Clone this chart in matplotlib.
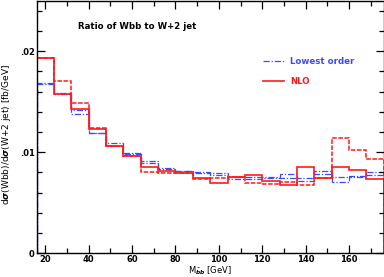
import numpy as np
import matplotlib
matplotlib.use('Agg')
import matplotlib.pyplot as plt
from matplotlib.ticker import MultipleLocator, FuncFormatter

# bin edges in M_bb (GeV), 8 GeV bins
edges = np.arange(16, 177, 8)

# Lowest order (scale band, two curves)
lo_up = [.0168, .0159, .01415, .0119, .0109, .0099, .0091, .00845, .0081, .0080,
         .0079, .0075, .0075, .0075, .0078, .0074, .00815, .0075, .0076, .0080]
lo_dn = [.0167, .0158, .0138, .0119, .0106, .0098, .0089, .0083, .0081, .0079,
         .0077, .0073, .0073, .0074, .0074, .0072, .0078, .0071, .0075, .0077]

# NLO (solid and dashed)
nlo_a = [.0193, .0158, .0143, .0123, .0106, .0096, .00855, .00815, .0079, .0074,
         .0070, .0075, .0077, .0072, .0068, .00855, .0074, .00852, .00822, .00737]
nlo_b = [.0193, .0170, .0149, .01235, .0106, .0096, .00806, .00796, .0079, .0073,
         .0074, .0075, .0070, .0069, .0071, .0068, .0074, .0114, .0102, .0093]

xticks = [20, 40, 60, 80, 100, 120, 140, 160]

plt.rcParams['font.family'] = 'DejaVu Sans'
plt.rcParams['font.weight'] = 'bold'

fig = plt.figure(figsize=(3.84, 2.77), dpi=100)
ax = fig.add_axes([0.0956, 0.0856, 0.9035, 0.9124])

blue = '#3a4cff'
red = '#ff1a1a'
dashdot = (0, (5, 1.5, 1, 1.5))
ax.stairs(lo_up, edges, color=blue, lw=0.9, ls=dashdot)
ax.stairs(lo_dn, edges, color=blue, lw=0.9, ls=dashdot)
ax.stairs(nlo_a, edges, color=red, lw=1.2)
ax.stairs(nlo_b, edges, color=red, lw=1.1, ls=(0, (3, 1)))

ax.set_xlim(16, 176)
ax.set_ylim(0, 0.025)
ax.set_xticks(xticks)
ax.xaxis.set_minor_locator(MultipleLocator(10))
ax.yaxis.set_major_locator(MultipleLocator(0.01))
ax.yaxis.set_minor_locator(MultipleLocator(0.002))
ax.yaxis.set_major_formatter(FuncFormatter(lambda v, p: '0' if v == 0 else ('%.2f' % v).lstrip('0')))
ax.tick_params(which='both', direction='in', top=True, right=True, labelsize=6, width=0.9, pad=1.5)
ax.tick_params(which='major', length=6)
ax.tick_params(which='minor', length=3.5)
for s in ax.spines.values():
    s.set_linewidth(1.0)

ax.set_xlabel(r'M$_{\bar{b}b}$ [GeV]', fontsize=6, labelpad=0)
ax.set_ylabel(r'd$\sigma$(Wbb)/d$\sigma$(W+2 jet) [fb/GeV]', fontsize=6.5)
ax.yaxis.set_label_coords(-0.068, 0.47)

ax.text(0.119, 0.898, 'Ratio of Wbb to W+2 jet', transform=ax.transAxes, fontsize=6.2, va='center')
ax.plot([120.2, 129.9], [0.0190, 0.0190], color=blue, lw=0.9, ls=dashdot)
ax.text(132.7, 0.0190, 'Lowest order', color=blue, fontsize=6.2, va='center')
ax.plot([120.2, 129.9], [0.0170, 0.0170], color=red, lw=1.2)
ax.text(132.7, 0.0170, 'NLO', color=red, fontsize=6.2, va='center')

plt.savefig('out.png', dpi=100)
